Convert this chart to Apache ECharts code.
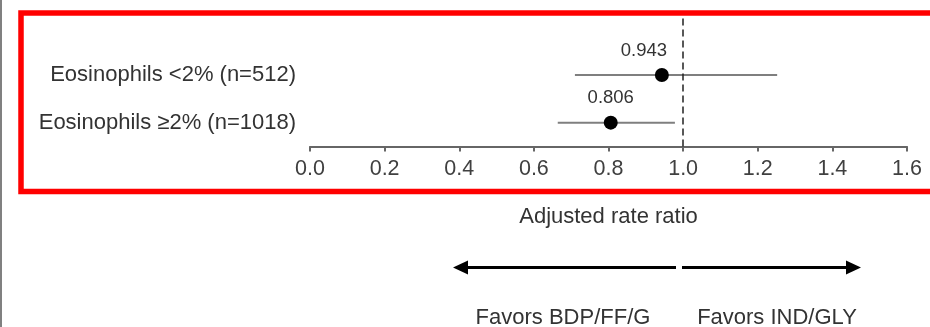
<!DOCTYPE html>
<html>
<head>
<meta charset="utf-8">
<script src="https://cdn.jsdelivr.net/npm/echarts@6/dist/echarts.min.js"></script>
<style>html,body{margin:0;padding:0;background:#fff;}#c{width:930px;height:327px;}</style>
</head>
<body>
<div id="c"></div>
<script>
// Data
const categories = ['Eosinophils \u22652% (n=1018)', 'Eosinophils <2% (n=512)']; // bottom to top
const rowPos = [1, 2];
const estimates = [0.806, 0.943];
const ciLow = [0.664, 0.710];
const ciHigh = [0.978, 1.252];
const estLabels = ['0.806', '0.943'];
const xTicks = [0, 0.2, 0.4, 0.6, 0.8, 1.0, 1.2, 1.4, 1.6];
const refValue = 1.0;
const xTitle = 'Adjusted rate ratio';
const favorLeft = 'Favors BDP/FF/G';
const favorRight = 'Favors IND/GLY';

const FONT = '"Liberation Sans", Arial, sans-serif';
const chart = echarts.init(document.getElementById('c'), null, {renderer: 'canvas'});

const ciData = rowPos.map((y, i) => [ciLow[i], ciHigh[i], y]);
const pointData = rowPos.map((y, i) => ({
  value: [estimates[i], y],
  label: {formatter: estLabels[i], offset: i === 1 ? [-18, 0] : [0, 0]}
}));

chart.setOption({
  animation: false,
  grid: {left: 310, right: 23, top: 17.7, bottom: 180.5, containLabel: false},
  xAxis: {
    type: 'value', min: 0, max: 1.6, interval: 0.2,
    name: xTitle, nameLocation: 'middle', nameGap: 59,
    nameTextStyle: {fontFamily: FONT, fontSize: 22, color: '#333'},
    axisLine: {show: true, lineStyle: {color: '#666', width: 2}},
    axisTick: {show: true, length: 5, lineStyle: {color: '#666', width: 2}},
    axisLabel: {fontFamily: FONT, fontSize: 21.5, color: '#404040', margin: 12,
      formatter: v => v.toFixed(1), showMaxLabel: true, showMinLabel: true},
    splitLine: {show: false}
  },
  yAxis: {
    type: 'value', min: 0.5, max: 3.2,
    axisLine: {show: false}, axisTick: {show: false}, splitLine: {show: false},
    axisLabel: {fontFamily: FONT, fontSize: 22, color: '#333', margin: 14, padding: [5, 0, 0, 0],
      customValues: rowPos, formatter: v => categories[Math.round(v) - 1]}
  },
  series: [
    {
      type: 'custom',
      data: ciData,
      encode: {x: [0, 1], y: 2},
      renderItem: function (params, api) {
        const p1 = api.coord([api.value(0), api.value(2)]);
        const p2 = api.coord([api.value(1), api.value(2)]);
        return {type: 'line', shape: {x1: p1[0], y1: p1[1], x2: p2[0], y2: p2[1]},
          style: {stroke: '#7f7f7f', lineWidth: 2}};
      },
      z: 2
    },
    {
      type: 'scatter',
      data: pointData,
      symbol: 'circle', symbolSize: 14,
      itemStyle: {color: '#000', opacity: 1},
      label: {show: true, position: 'top', distance: 8, fontFamily: FONT, fontSize: 18.5, color: '#333'},
      z: 3,
      markLine: {
        silent: true, symbol: ['none', 'none'],
        label: {show: false},
        lineStyle: {color: '#222', type: [7, 4], width: 1.5},
        data: [{xAxis: refValue}]
      }
    }
  ],
  graphic: [
    {type: 'rect', shape: {x: 0, y: 0, width: 2, height: 327}, style: {fill: '#808080'}, z: 100},
    {type: 'rect', shape: {x: 21, y: 13, width: 940, height: 178.5}, style: {fill: 'none', stroke: '#ff0000', lineWidth: 5.5}, z: 100},
    // left arrow
    {type: 'line', shape: {x1: 466, y1: 267.5, x2: 676, y2: 267.5}, style: {stroke: '#000', lineWidth: 3}},
    {type: 'polygon', shape: {points: [[453, 267.5], [468, 260.5], [468, 274.5]]}, style: {fill: '#000'}},
    // right arrow
    {type: 'line', shape: {x1: 682, y1: 267.5, x2: 848, y2: 267.5}, style: {stroke: '#000', lineWidth: 3}},
    {type: 'polygon', shape: {points: [[861, 267.5], [846, 260.5], [846, 274.5]]}, style: {fill: '#000'}},
    {type: 'text', x: 563, y: 318, style: {text: favorLeft, font: '22px ' + FONT, fill: '#333', textAlign: 'center', textVerticalAlign: 'middle'}},
    {type: 'text', x: 777, y: 318, style: {text: favorRight, font: '22px ' + FONT, fill: '#333', textAlign: 'center', textVerticalAlign: 'middle'}}
  ]
});
</script>
</body>
</html>
